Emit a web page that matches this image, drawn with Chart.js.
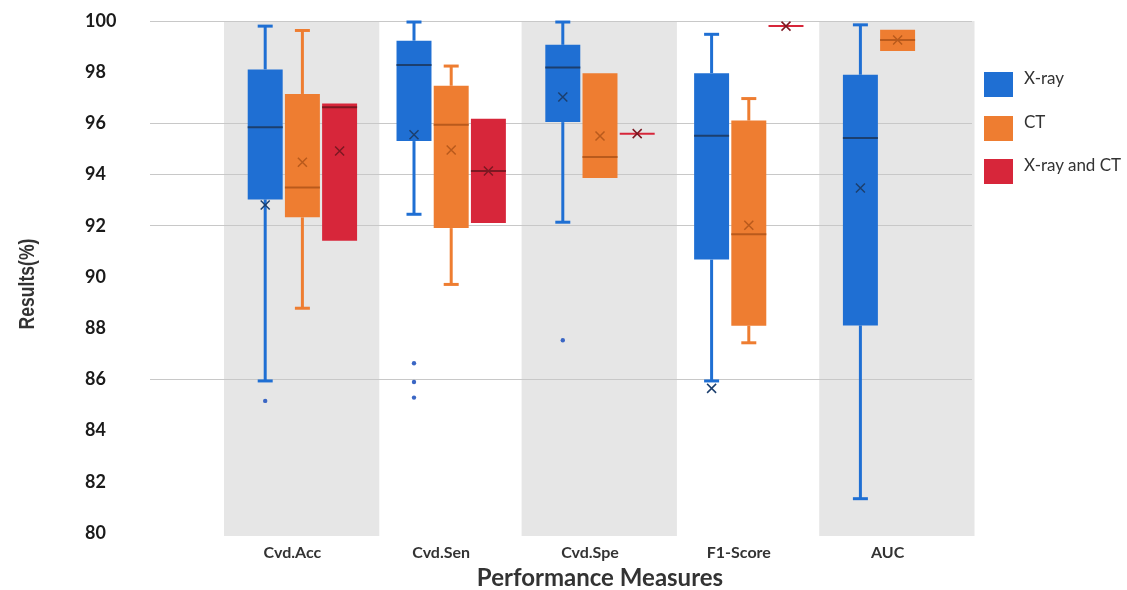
<!DOCTYPE html>
<html>
<head>
<meta charset="utf-8">
<script src="https://cdn.jsdelivr.net/npm/chart.js@4.4.0/dist/chart.umd.min.js"></script>
<style>
  html, body { margin: 0; padding: 0; background: #fff; }
  #wrap { position: relative; width: 1127px; height: 590px; }
  #legend { position: absolute; left: 984px; top: 72px; font: 17px Lato, sans-serif; color: #333; }
  .item { position: relative; height: 25px; margin-bottom: 18.5px; }
  .sw { position: absolute; left: 0; top: 0; width: 29px; height: 25px; }
  .tx { position: absolute; left: 40px; top: -4px; line-height: 20px; white-space: nowrap; }
</style>
</head>
<body>
<div id="wrap">
  <canvas id="chart" width="1127" height="590"></canvas>
  <div id="legend"></div>
</div>
<script>
const categories = ['Cvd.Acc', 'Cvd.Sen', 'Cvd.Spe', 'F1-Score', 'AUC'];
const seriesNames = ['X-ray', 'CT', 'X-ray and CT'];
const seriesColors = ['#1f6fd3', '#ee7d31', '#d7263a'];
const darkColors = ['#1c3f6e', '#b95a1c', '#7c1822'];

// X-ray
const xrayMin = [85.94, 92.45, 92.14, 85.94, 81.34];
const xrayQ1 = [93.03, 95.31, 96.05, 90.68, 88.11];
const xrayMedian = [95.85, 98.28, 98.18, 95.52, 95.43];
const xrayQ3 = [98.11, 99.23, 99.07, 97.96, 97.90];
const xrayMax = [99.80, 99.96, 99.96, 99.48, 99.85];
const xrayMean = [92.81, 95.56, 97.03, 85.65, 93.48];
const xrayOutliers = [[85.16], [86.63, 85.90, 85.29], [87.53], [], []];

// CT
const ctMin = [88.78, 89.71, 93.87, 87.43, 98.83];
const ctQ1 = [92.33, 91.91, 93.87, 88.10, 98.83];
const ctMedian = [93.50, 95.95, 94.69, 91.67, 99.26];
const ctQ3 = [97.15, 97.47, 97.96, 96.11, 99.66];
const ctMax = [99.63, 98.24, 97.96, 96.97, 99.66];
const ctMean = [94.48, 94.96, 95.51, 92.02, 99.26];
const ctOutliers = [[], [], [], [], []];

// X-ray and CT
const bothMin = [91.42, 92.11, 95.60, 99.80, null];
const bothQ1 = [91.42, 92.11, 95.60, 99.80, null];
const bothMedian = [96.63, 94.14, 95.60, 99.80, null];
const bothQ3 = [96.78, 96.18, 95.60, 99.80, null];
const bothMax = [96.78, 96.18, 95.60, 99.80, null];
const bothMean = [94.92, 94.14, 95.60, 99.80, null];
const bothOutliers = [[], [], [], [], []];

const yTicksMin = 80, yTicksMax = 100, yStep = 2;
const gridValues = [100, 96, 94, 92, 86];

const stats = [
  {min: xrayMin, q1: xrayQ1, med: xrayMedian, q3: xrayQ3, max: xrayMax, mean: xrayMean, out: xrayOutliers},
  {min: ctMin, q1: ctQ1, med: ctMedian, q3: ctQ3, max: ctMax, mean: ctMean, out: ctOutliers},
  {min: bothMin, q1: bothQ1, med: bothMedian, q3: bothQ3, max: bothMax, mean: bothMean, out: bothOutliers}
];

// legend
const legendEl = document.getElementById('legend');
seriesNames.forEach((name, i) => {
  const d = document.createElement('div');
  d.className = 'item';
  d.innerHTML = '<span class="sw" style="background:' + seriesColors[i] + '"></span><span class="tx">' + name + '</span>';
  legendEl.appendChild(d);
});

// grey bands behind every other category
const bandsPlugin = {
  id: 'bands',
  beforeDraw(chart) {
    const {ctx, chartArea} = chart;
    const x = chart.scales.x;
    const step = x.getPixelForValue(1) - x.getPixelForValue(0);
    ctx.save();
    ctx.fillStyle = '#e6e6e6';
    categories.forEach((c, i) => {
      if (i % 2) return;
      const cx = x.getPixelForValue(i);
      ctx.fillRect(cx - step / 2 - 4, chartArea.top, step + 6.5, chartArea.bottom - chartArea.top + 3);
    });
    ctx.restore();
  }
};

// whiskers, medians, means, outliers
const boxPlugin = {
  id: 'boxExtras',
  afterDatasetsDraw(chart) {
    const {ctx} = chart;
    const y = chart.scales.y;
    stats.forEach((s, di) => {
      const meta = chart.getDatasetMeta(di);
      meta.data.forEach((bar, j) => {
        if (s.q1[j] == null) return;
        const cx = bar.x, w = bar.width;
        ctx.save();
        ctx.strokeStyle = seriesColors[di];
        ctx.lineWidth = 3;
        const seg = (a, b) => {
          if (a === b) return;
          ctx.beginPath();
          ctx.moveTo(cx, y.getPixelForValue(a));
          ctx.lineTo(cx, y.getPixelForValue(b));
          ctx.stroke();
          ctx.beginPath();
          ctx.moveTo(cx - 7.5, y.getPixelForValue(b));
          ctx.lineTo(cx + 7.5, y.getPixelForValue(b));
          ctx.stroke();
        };
        seg(s.q3[j], s.max[j]);
        seg(s.q1[j], s.min[j]);
        // median
        const flat = s.q1[j] === s.q3[j];
        ctx.strokeStyle = flat ? seriesColors[di] : darkColors[di];
        ctx.lineWidth = 2;
        const my = y.getPixelForValue(s.med[j]);
        ctx.beginPath();
        ctx.moveTo(cx - w / 2, my);
        ctx.lineTo(cx + w / 2, my);
        ctx.stroke();
        // mean cross
        const ey = y.getPixelForValue(s.mean[j]);
        ctx.strokeStyle = darkColors[di];
        ctx.lineWidth = 1.5;
        ctx.beginPath();
        ctx.moveTo(cx - 4.5, ey - 4.5); ctx.lineTo(cx + 4.5, ey + 4.5);
        ctx.moveTo(cx + 4.5, ey - 4.5); ctx.lineTo(cx - 4.5, ey + 4.5);
        ctx.stroke();
        // outliers
        ctx.fillStyle = '#3a66c4';
        s.out[j].forEach(v => {
          ctx.beginPath();
          ctx.arc(cx, y.getPixelForValue(v), 2.2, 0, Math.PI * 2);
          ctx.fill();
        });
        ctx.restore();
      });
    });
  }
};

// rotated y title
const yTitlePlugin = {
  id: 'yTitle',
  afterDraw(chart) {
    const {ctx} = chart;
    ctx.save();
    ctx.translate(28, 284);
    ctx.rotate(-Math.PI / 2);
    ctx.scale(0.8, 1);
    ctx.font = 'bold 22px "Liberation Sans", sans-serif';
    ctx.fillStyle = '#333';
    ctx.textAlign = 'center';
    ctx.textBaseline = 'middle';
    ctx.fillText('Results(%)', 0, 0);
    ctx.restore();
  }
};

const target = { left: 228, top: 21, right: 972 };

const chart = new Chart(document.getElementById('chart'), {
  type: 'bar',
  data: {
    labels: categories,
    datasets: stats.map((s, i) => ({
      label: seriesNames[i],
      data: s.q1.map((v, j) => v == null ? null : [s.q1[j], s.q3[j]]),
      backgroundColor: seriesColors[i],
      borderWidth: 0,
      categoryPercentage: 0.75,
      barPercentage: 0.94
    }))
  },
  options: {
    responsive: false,
    animation: false,
    layout: { padding: { left: 85, top: 21, right: 1127 - target.right, bottom: 0 } },
    plugins: { legend: { display: false }, tooltip: { enabled: false } },
    scales: {
      x: {
        grid: { display: false },
        border: { display: false },
        ticks: { padding: 2, labelOffset: -10, color: '#333', font: { family: 'Lato', size: 16, weight: 'bold' } },
        title: {
          display: true, text: 'Performance Measures', color: '#333',
          font: { family: 'Lato', size: 24, weight: 'bold', lineHeight: 1.0 },
          padding: { top: 0, bottom: 0 }
        },
        afterFit(scale) { scale.height = 57; }
      },
      y: {
        min: yTicksMin, max: yTicksMax,
        border: { display: false },
        grid: {
          color: c => gridValues.includes(c.tick && c.tick.value) ? '#c8c8c8' : 'rgba(0,0,0,0)',
          tickLength: 78,
          lineWidth: 1
        },
        ticks: {
          stepSize: yStep, crossAlign: 'far', padding: 33, color: '#1a1a1a',
          font: { family: 'Lato', size: 18, weight: 'bold' }
        },
        afterFit(scale) {
          scale.width = 143;
          scale.paddingTop = 0;
          scale.paddingBottom = 0;
        }
      }
    }
  },
  plugins: [bandsPlugin, boxPlugin, yTitlePlugin]
});

// nudge the layout so the plot area lands where the reference has it
const pad = chart.options.layout.padding;
pad.top += target.top - chart.chartArea.top;
pad.left += target.left - chart.chartArea.left;
pad.right += chart.chartArea.right - target.right;
chart.update();
</script>
</body>
</html>
